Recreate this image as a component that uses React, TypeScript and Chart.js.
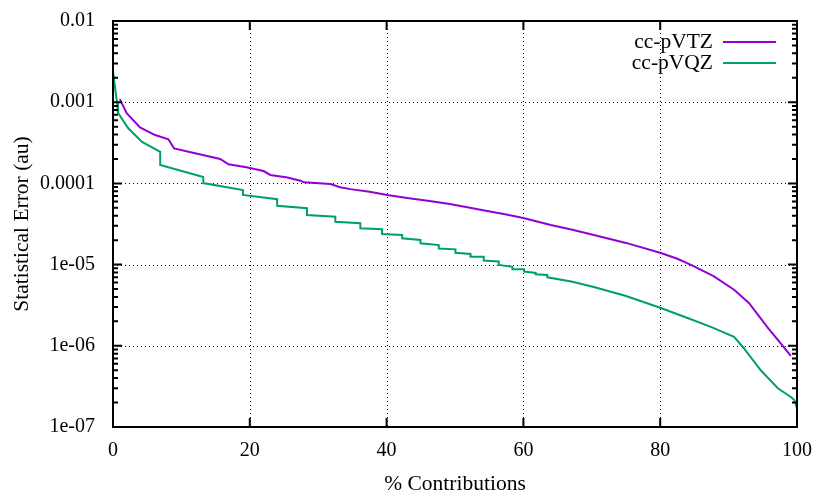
import React, { useEffect, useRef } from "react";
import { Chart, registerables } from "chart.js";

Chart.register(...registerables);

// ---- data ----
const vtzX = [1.0, 2.0, 3.95, 6.15, 8.1, 8.93, 12.0, 15.67, 16.88, 19.5, 22.0, 23.0, 25.5, 27.4, 27.9, 31.8, 33.2, 34.7, 37.5, 40.1, 43.0, 46.0, 49.0, 51.8, 54.5, 57.5, 60.0, 62.0, 64.0, 67.0, 70.3, 75.0, 80.1, 82.5, 84.5, 87.8, 90.8, 92.97, 95.75, 97.5, 99.1];
const vtzY = [1.09e-3, 7.3e-4, 4.9e-4, 3.94e-4, 3.49e-4, 2.7e-4, 2.35e-4, 2.0e-4, 1.72e-4, 1.58e-4, 1.42e-4, 1.27e-4, 1.18e-4, 1.08e-4, 1.03e-4, 9.8e-5, 8.95e-5, 8.5e-5, 7.9e-5, 7.2e-5, 6.6e-5, 6.1e-5, 5.6e-5, 5.1e-5, 4.6e-5, 4.15e-5, 3.75e-5, 3.4e-5, 3.08e-5, 2.7e-5, 2.32e-5, 1.85e-5, 1.39e-5, 1.18e-5, 9.9e-6, 7.2e-6, 4.9e-6, 3.37e-6, 1.66e-6, 1.1e-6, 7.5e-7];

const vqzX = [0.0, 0.3, 0.6, 0.73, 2.2, 4.25, 6.9, 6.9, 13.2, 13.2, 19.0, 19.0, 24.0, 24.0, 28.36, 28.36, 32.5, 32.5, 36.16, 36.16, 39.34, 39.34, 42.27, 42.27, 44.95, 44.95, 47.63, 47.63, 50.07, 50.07, 52.27, 52.27, 54.2, 54.2, 56.4, 56.4, 58.4, 58.4, 60.1, 60.1, 61.8, 61.8, 63.5, 63.5, 67.0, 70.3, 75.0, 80.1, 84.0, 87.4, 90.8, 92.2, 94.7, 97.2, 99.1, 99.6, 100.0];
const vqzY = [2.4e-3, 1.5e-3, 9.8e-4, 7.4e-4, 4.8e-4, 3.24e-4, 2.44e-4, 1.69e-4, 1.2e-4, 1.01e-4, 8.3e-5, 7.2e-5, 6.4e-5, 5.3e-5, 4.94e-5, 4.08e-5, 3.89e-5, 3.37e-5, 3.23e-5, 2.8e-5, 2.72e-5, 2.38e-5, 2.32e-5, 2.11e-5, 2.01e-5, 1.83e-5, 1.74e-5, 1.58e-5, 1.54e-5, 1.4e-5, 1.35e-5, 1.25e-5, 1.25e-5, 1.12e-5, 1.09e-5, 9.9e-6, 9.4e-6, 8.75e-6, 8.75e-6, 8.2e-6, 7.9e-6, 7.6e-6, 7.45e-6, 6.97e-6, 6.2e-6, 5.3e-6, 4.1e-6, 2.92e-6, 2.2e-6, 1.71e-6, 1.29e-6, 9.4e-7, 5.0e-7, 3.0e-7, 2.34e-7, 2.15e-7, 1.7e-7];

const seriesNames = ["cc-pVTZ", "cc-pVQZ"];
const seriesColors = ["#9400D3", "#009E73"];

const yTickValues = [1e-2, 1e-3, 1e-4, 1e-5, 1e-6, 1e-7];
const yTickLabels = ["0.01", "0.001", "0.0001", "1e-05", "1e-06", "1e-07"];
const xTickValues = [0, 20, 40, 60, 80, 100];

const FONT = "'Liberation Serif', 'Times New Roman', serif";
const FSIZE = 20;
const TSIZE = 21.5;

const framePlugin = {
  id: "gnuFrame",
  beforeDatasetsDraw(chart: any) {
    const { ctx, chartArea: a, scales } = chart;
    const xs = scales.x;
    const ys = scales.y;
    ctx.save();
    ctx.strokeStyle = "#000";
    ctx.lineWidth = 1;
    ctx.setLineDash([1, 3]);
    xTickValues.slice(1, -1).forEach((v) => {
      const px = Math.round(xs.getPixelForValue(v)) + 0.5;
      ctx.beginPath();
      ctx.moveTo(px, a.top);
      ctx.lineTo(px, a.bottom);
      ctx.stroke();
    });
    yTickValues.slice(1, -1).forEach((v) => {
      const py = Math.round(ys.getPixelForValue(v)) + 0.5;
      ctx.beginPath();
      ctx.moveTo(a.left, py);
      ctx.lineTo(a.right, py);
      ctx.stroke();
    });
    ctx.restore();
  },
  afterDatasetsDraw(chart: any) {
    const { ctx, chartArea: a, scales } = chart;
    const xs = scales.x;
    const ys = scales.y;
    ctx.save();
    ctx.strokeStyle = "#000";
    ctx.lineWidth = 2;
    ctx.setLineDash([]);
    xTickValues.forEach((v) => {
      const px = xs.getPixelForValue(v);
      ctx.beginPath();
      ctx.moveTo(px, a.bottom);
      ctx.lineTo(px, a.bottom - 9);
      ctx.moveTo(px, a.top);
      ctx.lineTo(px, a.top + 9);
      ctx.stroke();
    });
    yTickValues.forEach((v) => {
      const py = ys.getPixelForValue(v);
      ctx.beginPath();
      ctx.moveTo(a.left, py);
      ctx.lineTo(a.left + 9, py);
      ctx.moveTo(a.right, py);
      ctx.lineTo(a.right - 9, py);
      ctx.stroke();
      for (let m = 2; m <= 9; m++) {
        const mv = v * m;
        if (mv > 1e-2) continue;
        const my = ys.getPixelForValue(mv);
        ctx.beginPath();
        ctx.moveTo(a.left, my);
        ctx.lineTo(a.left + 5, my);
        ctx.moveTo(a.right, my);
        ctx.lineTo(a.right - 5, my);
        ctx.stroke();
      }
    });
    ctx.strokeRect(a.left, a.top, a.right - a.left, a.bottom - a.top);
    ctx.restore();
  },
  afterDraw(chart: any) {
    const { ctx } = chart;
    ctx.save();
    ctx.font = `${TSIZE}px ${FONT}`;
    ctx.fillStyle = "#000";
    ctx.textAlign = "right";
    ctx.textBaseline = "middle";
    const rows = [42, 63];
    seriesNames.forEach((name, i) => {
      ctx.fillText(name, 713, rows[i]);
      ctx.strokeStyle = seriesColors[i];
      ctx.lineWidth = 2;
      ctx.beginPath();
      ctx.moveTo(723, rows[i]);
      ctx.lineTo(776, rows[i]);
      ctx.stroke();
    });
    ctx.restore();
  },
};

export default function App() {
  const ref = useRef<HTMLCanvasElement | null>(null);
  useEffect(() => {
    document.body.style.margin = "0";
    const canvas = ref.current;
    if (!canvas) return;
    const chart = new Chart(canvas, {
      type: "line",
      data: {
        datasets: [
          {
            label: seriesNames[0],
            data: vtzX.map((x, i) => ({ x, y: vtzY[i] })),
            borderColor: seriesColors[0],
            borderWidth: 2,
            pointRadius: 0,
            fill: false,
            tension: 0,
          },
          {
            label: seriesNames[1],
            data: vqzX.map((x, i) => ({ x, y: vqzY[i] })),
            borderColor: seriesColors[1],
            borderWidth: 2,
            pointRadius: 0,
            fill: false,
            tension: 0,
          },
        ],
      },
      options: {
        animation: false,
        responsive: true,
        maintainAspectRatio: false,
        devicePixelRatio: 1,
        layout: { padding: { top: 21, right: 33, bottom: 0, left: 0 } },
        plugins: {
          legend: { display: false },
          tooltip: { enabled: false },
        },
        scales: {
          x: {
            type: "linear",
            min: 0,
            max: 100,
            grid: { display: false, drawTicks: false },
            border: { display: false },
            afterBuildTicks: (s: any) => {
              s.ticks = xTickValues.map((v) => ({ value: v }));
            },
            afterFit: (s: any) => {
              s.height = 71;
              s.paddingLeft = 0;
              s.paddingRight = 0;
              s.paddingTop = 0;
              s.paddingBottom = 0;
            },
            ticks: {
              color: "#000",
              font: { family: FONT, size: FSIZE },
              padding: 12,
              maxRotation: 0,
            },
            title: {
              display: true,
              text: "% Contributions",
              color: "#000",
              font: { family: FONT, size: TSIZE },
              padding: { top: 0, bottom: 1 },
            },
          },
          y: {
            type: "logarithmic",
            min: 1e-7,
            max: 1e-2,
            grid: { display: false, drawTicks: false },
            border: { display: false },
            afterBuildTicks: (s: any) => {
              s.ticks = yTickValues.map((v) => ({ value: v }));
            },
            afterFit: (s: any) => {
              s.width = 113;
              s.paddingLeft = 0;
              s.paddingRight = 0;
              s.paddingTop = 0;
              s.paddingBottom = 0;
            },
            ticks: {
              color: "#000",
              font: { family: FONT, size: FSIZE },
              padding: 18,
              callback: (value: any) => {
                const idx = yTickValues.findIndex((v) => Math.abs(Math.log10(v) - Math.log10(Number(value))) < 1e-6);
                return idx >= 0 ? yTickLabels[idx] : "";
              },
            },
            title: {
              display: true,
              text: "Statistical Error (au)",
              color: "#000",
              font: { family: FONT, size: TSIZE },
              padding: { top: 9, bottom: 0 },
            },
          },
        },
      },
      plugins: [framePlugin],
    });
    return () => chart.destroy();
  }, []);
  return (
    <div style={{ position: "relative", width: 830, height: 498 }}>
      <canvas ref={ref} />
    </div>
  );
}
